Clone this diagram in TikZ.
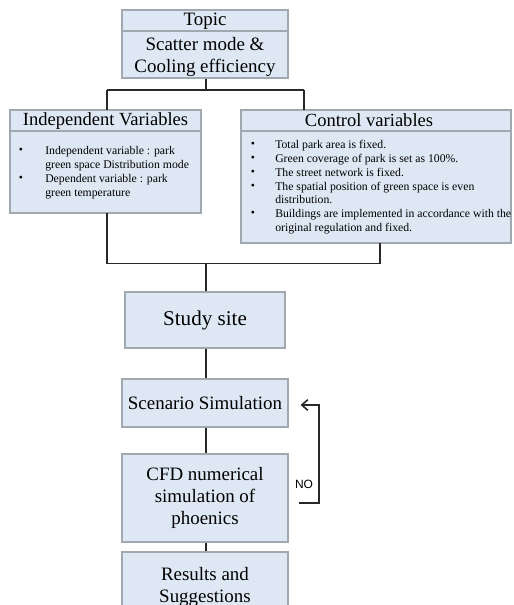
\documentclass[tikz,border=0pt]{standalone}
\usepackage{fontspec}
\setmainfont{Liberation Serif}
\newfontfamily\nofont{Liberation Sans}
\usetikzlibrary{calc,arrows.meta}
\definecolor{boxfill}{RGB}{221,232,244}
\definecolor{boxline}{RGB}{160,168,176}
\definecolor{conn}{RGB}{40,40,40}
\tikzset{
  box/.style={draw=boxline, fill=boxfill, line width=0.9pt, inner sep=0pt},
  conline/.style={draw=conn, line width=1.2pt},
  fbig/.style={font=\fontsize{14.2pt}{16.5pt}\selectfont, align=center},
  fhead/.style={font=\fontsize{13.9pt}{16pt}\selectfont},
  fsmall/.style={font=\fontsize{8.8pt}{10.4pt}\selectfont, align=left, inner sep=0pt},
  bul/.style={font=\fontsize{8.8pt}{10.4pt}\selectfont, inner sep=0pt}
}
\begin{document}
\begin{tikzpicture}[x=0.75pt,y=-0.75pt]
\clip (0,0) rectangle (513,605);
\fill[white] (0,0) rectangle (513,605);

% Topic box
\node[box, minimum width=166*0.75pt, minimum height=68*0.75pt] (topic) at (205,44) {};
\draw[boxline, line width=0.9pt] (122,31) -- (288,31);
\node[fbig] (topict) at (205,21) {Topic};
\node[fbig] (topicb) at (205,57) {Scatter mode \&\\Cooling efficiency};

% Independent variables box
\node[box, minimum width=191*0.75pt, minimum height=103*0.75pt] (indep) at (105.5,161.5) {};
\draw[boxline, line width=0.9pt] (10,131) -- (201,131);
\node[fhead] (indeph) at (105.5,121) {Independent Variables};
\node[fsmall, anchor=north west] (indept) at (45,146) {Independent variable : park\\green space Distribution mode\\Dependent variable : park\\green temperature};
\node[bul, anchor=base] (ib1) at (21,154) {•};
\node[bul, anchor=base] (ib2) at (21,182) {•};

% Control variables box
\node[box, minimum width=270*0.75pt, minimum height=133*0.75pt] (ctrl) at (376,176.5) {};
\draw[boxline, line width=0.9pt] (241,131) -- (511,131);
\node[fhead] (ctrlh) at (369,120) {Control variables};
\node[fsmall, anchor=north west] (ctrlt) at (275,140) {Total park area is fixed.\\Green coverage of park is set as 100\%.\\The street network is fixed.\\The spatial position of green space is even\\distribution.\\Buildings are implemented in accordance with the\\original regulation and fixed.};
\node[bul, anchor=base] (cb1) at (253,148) {•};
\node[bul, anchor=base] (cb2) at (253,161.8) {•};
\node[bul, anchor=base] (cb3) at (253,175.6) {•};
\node[bul, anchor=base] (cb4) at (253,189.4) {•};
\node[bul, anchor=base] (cb5) at (253,217) {•};

% Lower flow boxes
\node[box, fbig, font=\fontsize{15.8pt}{18pt}\selectfont, minimum width=160*0.75pt, minimum height=56*0.75pt] (study) at (205,320) {Study site};
\node[box, fbig, minimum width=166*0.75pt, minimum height=48*0.75pt] (scen) at (205,403) {Scenario Simulation};
\node[box, fbig, minimum width=166*0.75pt, minimum height=88*0.75pt] (cfd) at (205,498) {CFD numerical\\simulation of\\phoenics};
\node[box, fbig, minimum width=166*0.75pt, minimum height=70*0.75pt] (res) at (205,587) {Results and\\Suggestions};

% Connectors
\coordinate (j1) at (206,90);
\coordinate (ctop) at (304,110);
\coordinate (cbot) at (380,243);
\coordinate (j2) at (206,263.5);
\draw[conline] (topic.south -| j1) -- (j1);
\draw[conline] (107,90) -- (304,90);
\draw[conline] (107,90) -- (107,110);
\draw[conline] (304,90) -- (ctop);
\draw[conline] (107,213) -- (107,263.5) -- (380,263.5) -- (cbot);
\draw[conline] (j2) -- (study.north -| j2);
\draw[conline] (study.south -| j2) -- (scen.north -| j2);
\draw[conline] (scen.south -| j2) -- (cfd.north -| j2);
\draw[conline] (cfd.south -| j2) -- (res.north -| j2);

% Feedback loop
\coordinate (fbs) at ($(cfd.east)+(10,5)$);
\coordinate (fbe) at ($(scen.east)+(12,2)$);
\draw[conline, -{Straight Barb[length=4.5pt,width=8pt,line width=1.2pt]}] (fbs) -- (319,503) -- (319,405) -- (fbe);
\node[font=\nofont\fontsize{9pt}{10pt}\selectfont, inner sep=0pt] (no) at (304,484) {NO};
\end{tikzpicture}
\end{document}
